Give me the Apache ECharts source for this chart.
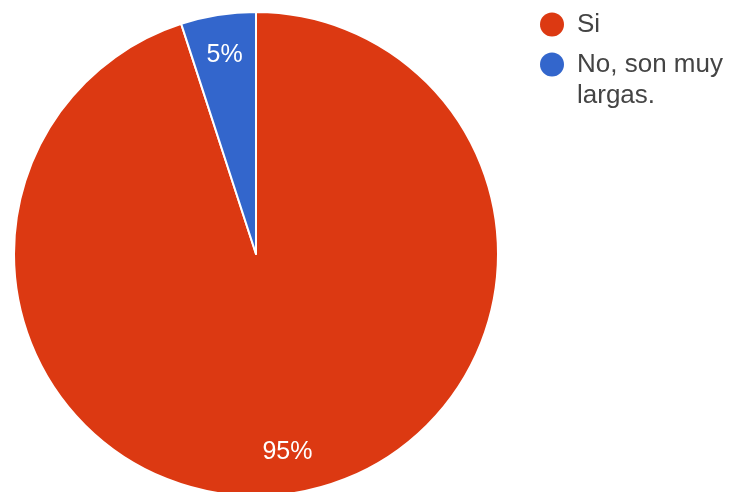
<!DOCTYPE html>
<html>
<head>
<meta charset="utf-8">
<script src="https://cdn.jsdelivr.net/npm/echarts@6/dist/echarts.min.js"></script>
<style>html,body{margin:0;padding:0;background:#fff}#c{width:730px;height:492px}</style>
</head>
<body>
<div id="c"></div>
<script>
var categories = ['Si', 'No, son muy\nlargas.'];
var values = [95, 5];
var colors = ['#dc3912', '#3366cc'];

var data = categories.map(function (c, i) {
  return { name: c, value: values[i], itemStyle: { color: colors[i] } };
});

var FONT = "'Liberation Sans', Arial, sans-serif";

function legendFor(name, top, prefix) {
  return {
    orient: 'vertical',
    left: 540,
    top: top,
    padding: 0,
    itemWidth: 24,
    itemHeight: 24,
    icon: 'circle',
    selectedMode: false,
    itemStyle: { borderWidth: 0 },
    formatter: function (n) { return prefix + n; },
    textStyle: { fontFamily: FONT, fontSize: 26, color: '#444', lineHeight: 31, padding: [0, 0, 0, 8] },
    data: [name]
  };
}

var chart = echarts.init(document.getElementById('c'), null, { renderer: 'canvas' });
chart.setOption({
  animation: false,
  backgroundColor: '#ffffff',
  legend: [
    legendFor(categories[0], 9, ''),
    legendFor(categories[1], 18, '\n')
  ],
  series: [
    {
      type: 'pie',
      center: [256, 254],
      radius: [0, 242],
      startAngle: 90,
      clockwise: true,
      label: { show: false },
      labelLine: { show: false },
      itemStyle: { borderColor: '#ffffff', borderWidth: 2 },
      emphasis: { disabled: true },
      data: data
    },
    {
      type: 'pie',
      silent: true,
      center: [256, 254],
      radius: [154, 242],
      startAngle: 90,
      clockwise: true,
      legendHoverLink: false,
      itemStyle: { color: 'rgba(0,0,0,0)', borderWidth: 0 },
      label: {
        show: true,
        position: 'inside',
        formatter: '{d}%',
        color: '#ffffff',
        fontFamily: FONT,
        fontSize: 25
      },
      labelLine: { show: false },
      emphasis: { disabled: true },
      data: categories.map(function (c, i) { return { name: c + ' ', value: values[i] }; })
    }
  ]
});
</script>
</body>
</html>
